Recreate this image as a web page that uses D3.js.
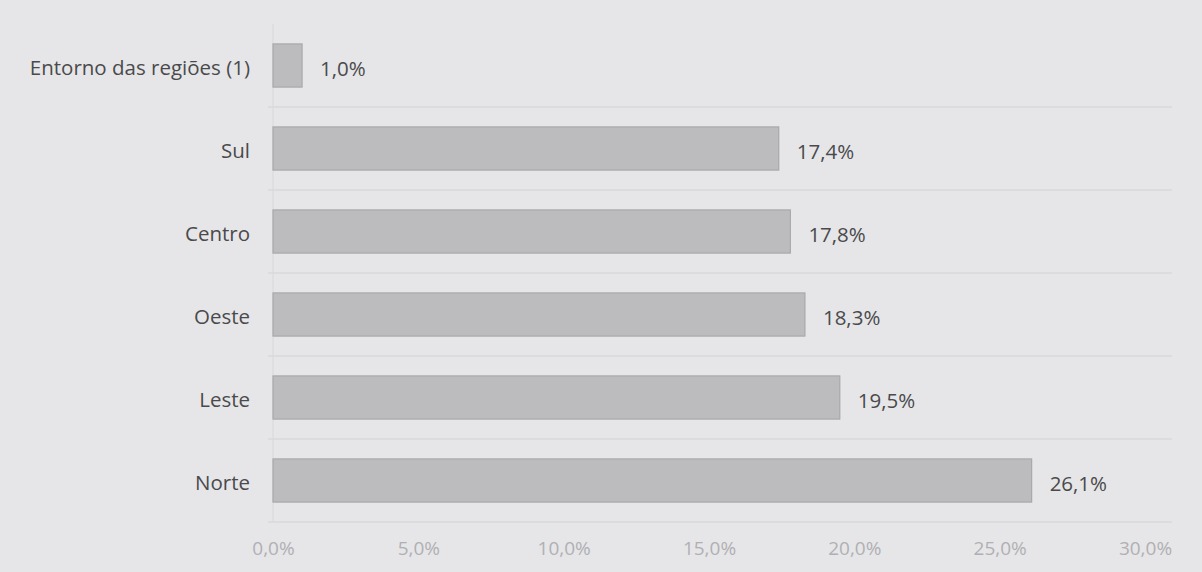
<!DOCTYPE html>
<html><head><meta charset="utf-8">
<script src="https://cdn.jsdelivr.net/npm/d3@7"></script>
<style>html,body{margin:0;padding:0;background:#e6e6e8;}svg{display:block;}</style>
</head><body>
<script>
const categories = ["Entorno das regiões (1)", "Sul", "Centro", "Oeste", "Leste", "Norte"];
const values = [1.0, 17.4, 17.8, 18.3, 19.5, 26.1];
const valueLabels = ["1,0%", "17,4%", "17,8%", "18,3%", "19,5%", "26,1%"];
const ticks = [0, 5, 10, 15, 20, 25, 30];

const W = 1202, H = 572;
const m = {left: 273, right: 57, top: 24, bottom: 50};
const svg = d3.select("body").append("svg").attr("width", W).attr("height", H);
svg.append("rect").attr("width", W).attr("height", H).attr("fill", "#e6e6e8");

const x = d3.scaleLinear().domain([0, 30]).range([m.left, W - m.right]);
const y = d3.scaleBand().domain(categories).range([m.top, H - m.bottom]).paddingInner(0.48).paddingOuter(0.24);
const step = y.step();

// horizontal separators
const g = svg.append("g");
categories.forEach((c, i) => {
  const yy = y(c) - (step - y.bandwidth())/2 + step;
  g.append("line").attr("x1", m.left - 5).attr("x2", W - 30)
    .attr("y1", yy).attr("y2", yy).attr("stroke", "#d2d2d6").attr("stroke-width", 1.2);
});
// vertical axis line
svg.append("line").attr("x1", m.left).attr("x2", m.left).attr("y1", m.top).attr("y2", H - m.bottom)
  .attr("stroke", "#d8d8dc");

svg.selectAll("rect.bar").data(categories).enter().append("rect")
  .attr("class", "bar")
  .attr("x", x(0)).attr("y", d => y(d))
  .attr("width", (d, i) => x(values[i]) - x(0))
  .attr("height", y.bandwidth())
  .attr("fill", "#bcbcbe").attr("stroke", "#a9a9ab").attr("stroke-width", 1.2);

svg.selectAll("text.val").data(categories).enter().append("text")
  .attr("x", (d, i) => x(values[i]) + 18)
  .attr("y", d => y(d) + y.bandwidth()/2 + 3)
  .attr("dy", "0.35em")
  .attr("font-family", "Open Sans, sans-serif").attr("font-size", 20.5)
  .attr("fill", "#4a4a4c")
  .text((d, i) => valueLabels[i]);

svg.selectAll("text.cat").data(categories).enter().append("text")
  .attr("x", m.left - 23)
  .attr("y", d => y(d) + y.bandwidth()/2 + 2)
  .attr("dy", "0.35em").attr("text-anchor", "end")
  .attr("font-family", "Open Sans, sans-serif").attr("font-size", 20.5)
  .attr("fill", "#4a4a4c")
  .text(d => d);

const xAxis = d3.axisBottom(x).tickValues(ticks).tickSize(0)
  .tickFormat(d => d.toFixed(1).replace(".", ",") + "%");
const ax = svg.append("g").attr("transform", `translate(0,${H - m.bottom + 16})`).call(xAxis);
ax.select(".domain").remove();
ax.selectAll("text").attr("font-family", "Open Sans, sans-serif").attr("font-size", 19)
  .attr("fill", "#b0b0b4");
</script>
</body></html>
